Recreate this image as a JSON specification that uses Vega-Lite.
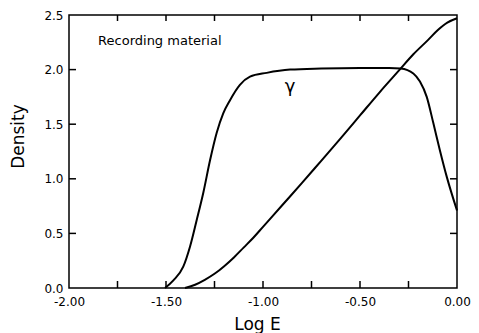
{
  "$schema": "https://vega.github.io/schema/vega-lite/v6.json",
  "width": 388,
  "height": 273,
  "autosize": {"type": "none"},
  "padding": {"left": 69, "top": 15, "right": 22, "bottom": 45},
  "background": "white",
  "config": {
    "view": {"stroke": "black", "strokeWidth": 1.5},
    "font": "DejaVu Sans",
    "axis": {
      "grid": false,
      "domain": false,
      "ticks": false,
      "tickSize": 0,
      "labelColor": "black",
      "labelFont": "DejaVu Sans",
      "labelFontSize": 12,
      "titleColor": "black",
      "titleFont": "DejaVu Sans",
      "titleFontSize": 17,
      "titleFontWeight": "normal"
    }
  },
  "datasets": {
    "curves": [
      {"curve": "gamma", "logE": -1.505, "density": 0.0},
      {"curve": "gamma", "logE": -1.462, "density": 0.07},
      {"curve": "gamma", "logE": -1.411, "density": 0.195},
      {"curve": "gamma", "logE": -1.376, "density": 0.38},
      {"curve": "gamma", "logE": -1.342, "density": 0.62},
      {"curve": "gamma", "logE": -1.308, "density": 0.87},
      {"curve": "gamma", "logE": -1.273, "density": 1.17},
      {"curve": "gamma", "logE": -1.239, "density": 1.42},
      {"curve": "gamma", "logE": -1.205, "density": 1.6},
      {"curve": "gamma", "logE": -1.17, "density": 1.72},
      {"curve": "gamma", "logE": -1.119, "density": 1.86},
      {"curve": "gamma", "logE": -1.067, "density": 1.935},
      {"curve": "gamma", "logE": -0.981, "density": 1.97},
      {"curve": "gamma", "logE": -0.86, "density": 2.0},
      {"curve": "gamma", "logE": -0.7, "density": 2.01},
      {"curve": "gamma", "logE": -0.5, "density": 2.015},
      {"curve": "gamma", "logE": -0.35, "density": 2.015},
      {"curve": "gamma", "logE": -0.29, "density": 2.01},
      {"curve": "gamma", "logE": -0.225, "density": 1.965},
      {"curve": "gamma", "logE": -0.191, "density": 1.89},
      {"curve": "gamma", "logE": -0.156, "density": 1.75},
      {"curve": "gamma", "logE": -0.122, "density": 1.51},
      {"curve": "gamma", "logE": -0.088, "density": 1.26},
      {"curve": "gamma", "logE": -0.053, "density": 1.02},
      {"curve": "gamma", "logE": 0.0, "density": 0.71},
      {"curve": "hd", "logE": -1.402, "density": 0.0},
      {"curve": "hd", "logE": -1.35, "density": 0.03},
      {"curve": "hd", "logE": -1.3, "density": 0.075},
      {"curve": "hd", "logE": -1.25, "density": 0.13},
      {"curve": "hd", "logE": -1.2, "density": 0.2},
      {"curve": "hd", "logE": -1.15, "density": 0.28},
      {"curve": "hd", "logE": -1.1, "density": 0.37},
      {"curve": "hd", "logE": -1.05, "density": 0.46},
      {"curve": "hd", "logE": -1.0, "density": 0.56},
      {"curve": "hd", "logE": -0.9, "density": 0.76},
      {"curve": "hd", "logE": -0.8, "density": 0.96},
      {"curve": "hd", "logE": -0.7, "density": 1.165},
      {"curve": "hd", "logE": -0.6, "density": 1.37},
      {"curve": "hd", "logE": -0.5, "density": 1.58},
      {"curve": "hd", "logE": -0.4, "density": 1.79},
      {"curve": "hd", "logE": -0.3, "density": 1.99},
      {"curve": "hd", "logE": -0.225, "density": 2.14},
      {"curve": "hd", "logE": -0.15, "density": 2.27},
      {"curve": "hd", "logE": -0.1, "density": 2.36},
      {"curve": "hd", "logE": -0.05, "density": 2.43},
      {"curve": "hd", "logE": 0.0, "density": 2.47}
    ],
    "xticks": [
      {"logE": -1.75}, {"logE": -1.5}, {"logE": -1.25}, {"logE": -1.0},
      {"logE": -0.75}, {"logE": -0.5}, {"logE": -0.25}
    ],
    "yticks": [
      {"density": 0.5}, {"density": 1.0}, {"density": 1.5}, {"density": 2.0}
    ],
    "heading": [
      {"logE": -1.85, "density": 2.225, "text": "Recording material"}
    ],
    "gammaLabel": [
      {"logE": -0.861, "density": 1.845, "text": "γ"}
    ]
  },
  "layer": [
    {
      "data": {"name": "curves"},
      "mark": {"type": "line", "color": "black", "strokeWidth": 2, "interpolate": "monotone"},
      "encoding": {
        "x": {
          "field": "logE", "type": "quantitative",
          "scale": {"domain": [-2, 0], "nice": false, "zero": false},
          "axis": {
            "orient": "bottom",
            "values": [-2, -1.5, -1, -0.5, 0],
            "labelExpr": "replace(format(datum.value, '.2f'), '−', '-')",
            "labelFlush": false,
            "labelPadding": 8,
            "title": "Log  E",
            "titleX": 188,
            "titleY": 41,
            "titleBaseline": "alphabetic",
            "titleAlign": "center"
          }
        },
        "y": {
          "field": "density", "type": "quantitative",
          "scale": {"domain": [0, 2.5], "nice": false, "zero": false},
          "axis": {
            "orient": "left",
            "values": [0, 0.5, 1, 1.5, 2, 2.5],
            "format": ".1f",
            "labelPadding": 6,
            "title": "Density",
            "titleAngle": -90,
            "titleX": -46,
            "titleY": 121,
            "titleBaseline": "alphabetic",
            "titleAlign": "center"
          }
        },
        "detail": {"field": "curve"}
      }
    },
    {
      "data": {"name": "xticks"},
      "mark": {"type": "rule", "color": "black", "strokeWidth": 1.5},
      "encoding": {
        "x": {"field": "logE", "type": "quantitative", "scale": {"domain": [-2, 0], "nice": false, "zero": false}, "axis": null},
        "y": {"datum": 0, "type": "quantitative", "scale": {"domain": [0, 2.5], "nice": false, "zero": false}, "axis": null},
        "y2": {"datum": 0.064}
      }
    },
    {
      "data": {"name": "xticks"},
      "mark": {"type": "rule", "color": "black", "strokeWidth": 1.5},
      "encoding": {
        "x": {"field": "logE", "type": "quantitative", "scale": {"domain": [-2, 0], "nice": false, "zero": false}, "axis": null},
        "y": {"datum": 2.5, "type": "quantitative", "scale": {"domain": [0, 2.5], "nice": false, "zero": false}, "axis": null},
        "y2": {"datum": 2.445}
      }
    },
    {
      "data": {"name": "yticks"},
      "mark": {"type": "rule", "color": "black", "strokeWidth": 1.5},
      "encoding": {
        "y": {"field": "density", "type": "quantitative", "scale": {"domain": [0, 2.5], "nice": false, "zero": false}, "axis": null},
        "x": {"datum": -2, "type": "quantitative", "scale": {"domain": [-2, 0], "nice": false, "zero": false}, "axis": null},
        "x2": {"datum": -1.964}
      }
    },
    {
      "data": {"name": "yticks"},
      "mark": {"type": "rule", "color": "black", "strokeWidth": 1.5},
      "encoding": {
        "y": {"field": "density", "type": "quantitative", "scale": {"domain": [0, 2.5], "nice": false, "zero": false}, "axis": null},
        "x": {"datum": 0, "type": "quantitative", "scale": {"domain": [-2, 0], "nice": false, "zero": false}, "axis": null},
        "x2": {"datum": -0.036}
      }
    },
    {
      "data": {"name": "heading"},
      "mark": {"type": "text", "align": "left", "baseline": "alphabetic", "fontSize": 13, "font": "DejaVu Sans", "color": "black"},
      "encoding": {
        "x": {"field": "logE", "type": "quantitative", "scale": {"domain": [-2, 0], "nice": false, "zero": false}, "axis": null},
        "y": {"field": "density", "type": "quantitative", "scale": {"domain": [0, 2.5], "nice": false, "zero": false}, "axis": null},
        "text": {"field": "text"}
      }
    },
    {
      "data": {"name": "gammaLabel"},
      "mark": {"type": "text", "align": "center", "baseline": "middle", "fontSize": 18, "font": "DejaVu Sans", "color": "black"},
      "encoding": {
        "x": {"field": "logE", "type": "quantitative", "scale": {"domain": [-2, 0], "nice": false, "zero": false}, "axis": null},
        "y": {"field": "density", "type": "quantitative", "scale": {"domain": [0, 2.5], "nice": false, "zero": false}, "axis": null},
        "text": {"field": "text"}
      }
    }
  ],
  "resolve": {"axis": {"x": "independent", "y": "independent"}}
}
